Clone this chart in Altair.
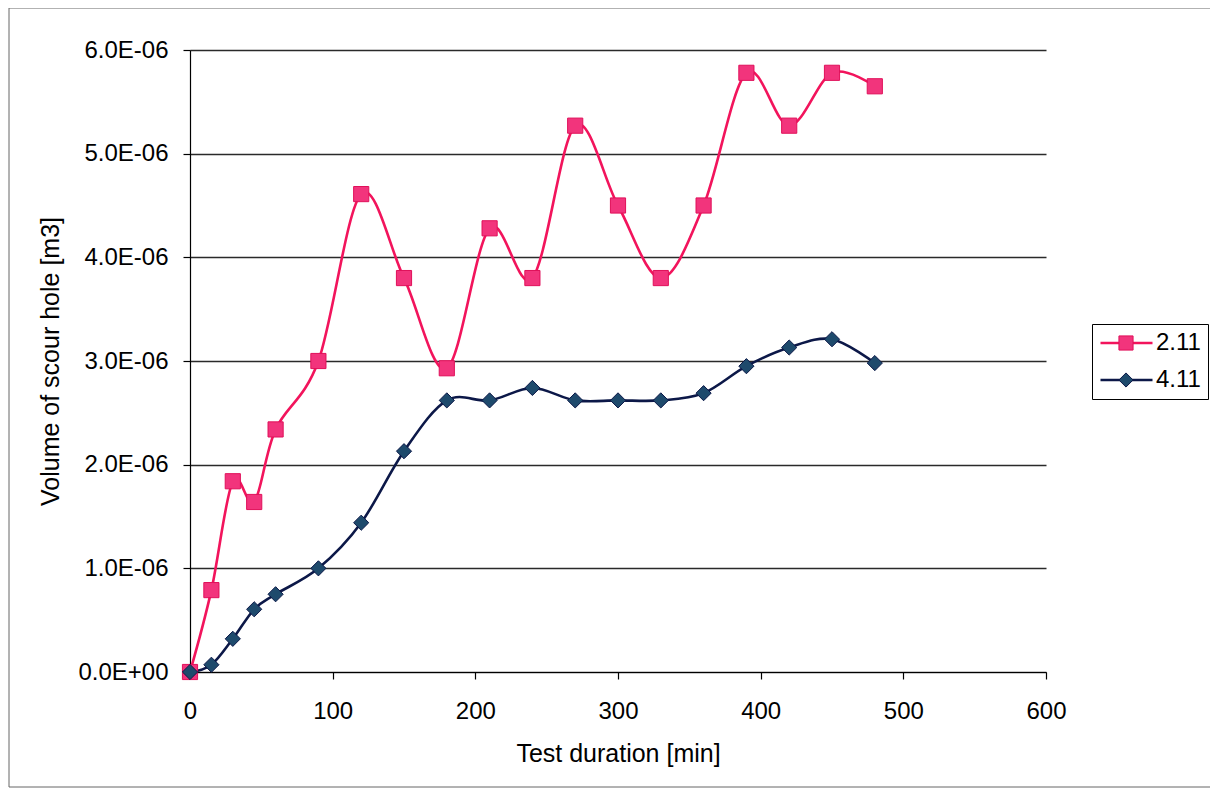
import altair as alt
import pandas as pd

# ---- data ----
minutes = [0, 15, 30, 45, 60, 90, 120, 150, 180, 210, 240, 270, 300, 330, 360, 390, 420, 450, 480]
series_names = ["2.11", "4.11"]
vol_2_11 = [0.0, 7.9e-7, 1.84e-6, 1.64e-6, 2.34e-6, 3.00e-6, 4.61e-6, 3.80e-6, 2.93e-6, 4.28e-6,
            3.80e-6, 5.27e-6, 4.50e-6, 3.80e-6, 4.50e-6, 5.78e-6, 5.27e-6, 5.78e-6, 5.65e-6]
vol_4_11 = [0.0, 7.0e-8, 3.2e-7, 6.05e-7, 7.5e-7, 1.00e-6, 1.44e-6, 2.13e-6, 2.62e-6, 2.62e-6,
            2.74e-6, 2.62e-6, 2.62e-6, 2.62e-6, 2.69e-6, 2.95e-6, 3.13e-6, 3.21e-6, 2.98e-6]
x_ticks = [0, 100, 200, 300, 400, 500, 600]
y_ticks = [0.0, 1.0e-6, 2.0e-6, 3.0e-6, 4.0e-6, 5.0e-6, 6.0e-6]

rows = []
for name, vals in zip(series_names, [vol_2_11, vol_4_11]):
    for m, v in zip(minutes, vals):
        rows.append({"minutes": m, "volume": v, "series": name})
df = pd.DataFrame(rows)

FONT = "Liberation Sans"
LINE_COLORS = ["#F2145C", "#0C1848"]
FILL_COLORS = ["#F2347C", "#1E4A6C"]
EDGE_COLORS = ["#E0105A", "#0C1848"]

exp_expr = "floor(log(abs(datum.value)) * LOG10E + 1e-9)"
y_label_expr = (
    "datum.value == 0 ? '0.0E+00' : "
    f"format(datum.value / pow(10, {exp_expr}), '.1f') + 'E' + "
    f"({exp_expr} < 0 ? '-' : '+') + format(abs({exp_expr}), '02d')"
)

x_enc = alt.X(
    "minutes:Q",
    scale=alt.Scale(domain=[0, 600], nice=False, zero=False),
    axis=alt.Axis(values=x_ticks, title="Test duration [min]", grid=False, labelFlush=False,
                  labelPadding=20, titleY=89, titleBaseline="alphabetic"),
)
y_enc = alt.Y(
    "volume:Q",
    scale=alt.Scale(domain=[0, 6.0e-6], nice=False),
    axis=alt.Axis(values=y_ticks, labelExpr=y_label_expr, title="Volume of scour hole [m3]",
                  grid=True, gridColor="#2a2a2a", gridWidth=1.3, labelFlush=False,
                  labelPadding=15, titleX=-131.5, titleY=311, titleBaseline="alphabetic",
                  titleAngle=-90),
)

legend_common = dict(
    orient="none", title=None, padding=7, clipHeight=24, rowPadding=13,
    labelFont=FONT, labelFontSize=24, labelColor="black", labelOffset=2,
)

lines = alt.Chart(df).mark_line(interpolate="cardinal", strokeWidth=2.6).encode(
    x=x_enc, y=y_enc,
    color=alt.Color(
        "series:N",
        scale=alt.Scale(domain=series_names, range=LINE_COLORS),
        legend=alt.Legend(legendX=902, legendY=274, symbolType="M-1,0H1", symbolSize=2704,
                          symbolStrokeWidth=2.6, strokeColor="black", fillColor="white",
                          zindex=0, **legend_common),
    ),
)

legend_markers = alt.Legend(legendX=917, legendY=274, symbolSize=200, symbolStrokeWidth=1,
                            labelExpr="''", zindex=1, **legend_common)

points = alt.Chart(df).transform_calculate(series2="datum.series").mark_point(
    filled=True, size=230, strokeWidth=1, opacity=1
).encode(
    x=x_enc, y=y_enc,
    fill=alt.Fill("series2:N", scale=alt.Scale(range=FILL_COLORS), legend=legend_markers),
    stroke=alt.Stroke("series2:N", scale=alt.Scale(range=EDGE_COLORS), legend=legend_markers),
    shape=alt.Shape("series2:N", scale=alt.Scale(range=["square", "diamond"]), legend=legend_markers),
)

frame = alt.Chart(alt.Data(values=[{"frame": 1}])).mark_rect(
    fill="white", fillOpacity=0, stroke="#666666", strokeWidth=1
).encode(x=alt.value(-181), x2=alt.value(1040), y=alt.value(-42), y2=alt.value(737))

chart = alt.layer(frame, lines, points).properties(
    width=856, height=622,
    autosize=alt.AutoSizeParams(type="none"),
    padding={"left": 182, "top": 42, "right": 164, "bottom": 116},
    background="white",
).configure_view(stroke=None).configure_axis(
    labelFont=FONT, titleFont=FONT, labelFontSize=24, titleFontSize=25,
    titleFontWeight="normal", labelColor="black", titleColor="black",
    domainColor="black", domainWidth=1.2, tickColor="black", tickSize=7, tickWidth=1.2,
)

chart.save("out.html", embed_options={"renderer": "svg", "actions": False})
